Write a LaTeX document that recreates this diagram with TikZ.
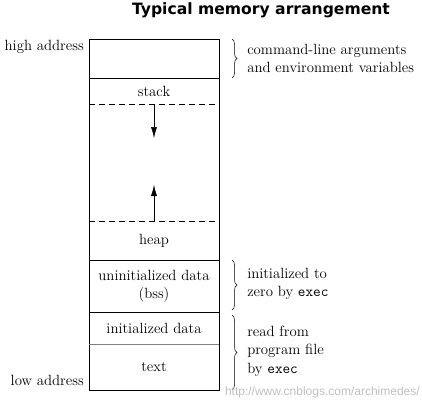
\documentclass[tikz,border=0pt]{standalone}
\usepackage{fontspec}
\newfontfamily\titlefont{DejaVu Sans}
\newfontfamily\markfont{Liberation Sans}
\usetikzlibrary{positioning,decorations.pathreplacing,arrows.meta}

\begin{document}
\begin{tikzpicture}[x=1pt, y=1pt, line width=0.5pt,
    cell/.style={minimum width=130pt, inner sep=0pt, outer sep=0pt, font=\fontsize{14.8}{18.5}\selectfont, align=center},
    side/.style={font=\fontsize{14.8}{18.5}\selectfont, align=left, anchor=west, inner sep=0pt},
    addr/.style={font=\fontsize{14.8}{18.5}\selectfont, anchor=east, inner sep=0pt},
    gapline/.style={dash pattern=on 6pt off 4pt},
    growarrow/.style={-{Latex[length=11pt,width=6pt]}},
    curly/.style={decorate, decoration={brace, amplitude=5pt}, line width=0.5pt}]
    \useasboundingbox (0,0) rectangle (422,400);
    \node[font=\titlefont\bfseries\fontsize{15.6}{18}\selectfont] (title) at (261,390) {Typical memory arrangement};
    \node[cell, minimum height=39pt] at (154,341.5) (args) {};
    \node[cell, minimum height=26pt, below=0pt of args] (stack) {stack};
    \node[cell, minimum height=117pt, below=0pt of stack] (free) {};
    \node[cell, minimum height=39pt, below=0pt of free] (heap) {heap};
    \node[cell, minimum height=52pt, below=0pt of heap] (bss) {uninitialized data\\(bss)};
    \node[cell, minimum height=32pt, below=0pt of bss] (data) {initialized data};
    \node[cell, minimum height=46pt, below=0pt of data] (text) {text};
    \draw (args.north west) rectangle (text.south east);
    \draw (args.south west) -- (args.south east);
    \draw[gapline] (stack.south west) -- (stack.south east);
    \draw[gapline] (heap.north west) -- (heap.north east);
    \draw (bss.north west) -- (bss.north east);
    \draw (data.north west) -- (data.north east);
    \draw[gray] (text.north west) -- (text.north east);
    \coordinate (down) at ([yshift=-34pt]free.north);
    \coordinate (up) at ([yshift=36pt]free.south);
    \draw[growarrow] (free.north) -- (down);
    \draw[growarrow] (free.south) -- (up);
    \node[addr] (high) at ([xshift=-5pt,yshift=-8pt]args.north west) {high address};
    \node[addr] (low) at ([xshift=-5pt,yshift=10pt]text.south west) {low address};
    \draw[curly] ([xshift=13pt]args.north east) -- ([xshift=13pt]args.south east);
    \draw[curly] ([xshift=13pt]bss.north east) -- ([xshift=13pt,yshift=2pt]bss.south east);
    \draw[curly] ([xshift=13pt,yshift=-3pt]data.north east) -- ([xshift=13pt]text.south east);
    \node[side] (envnote) at ([xshift=28pt]args.east) {command-line arguments\\and environment variables};
    \node[side] (bssnote) at ([xshift=28pt,yshift=2pt]bss.east) {initialized to\\zero by \texttt{exec}};
    \node[side] (filenote) at ([xshift=28pt]data.north east |- 0,49) {read from\\program file\\by \texttt{exec}};
    \node[font=\markfont\fontsize{12}{14}\selectfont, text=black!25, anchor=east, inner sep=0pt] (mark) at (420,8) {http://www.cnblogs.com/archimedes/};
\end{tikzpicture}
\end{document}
